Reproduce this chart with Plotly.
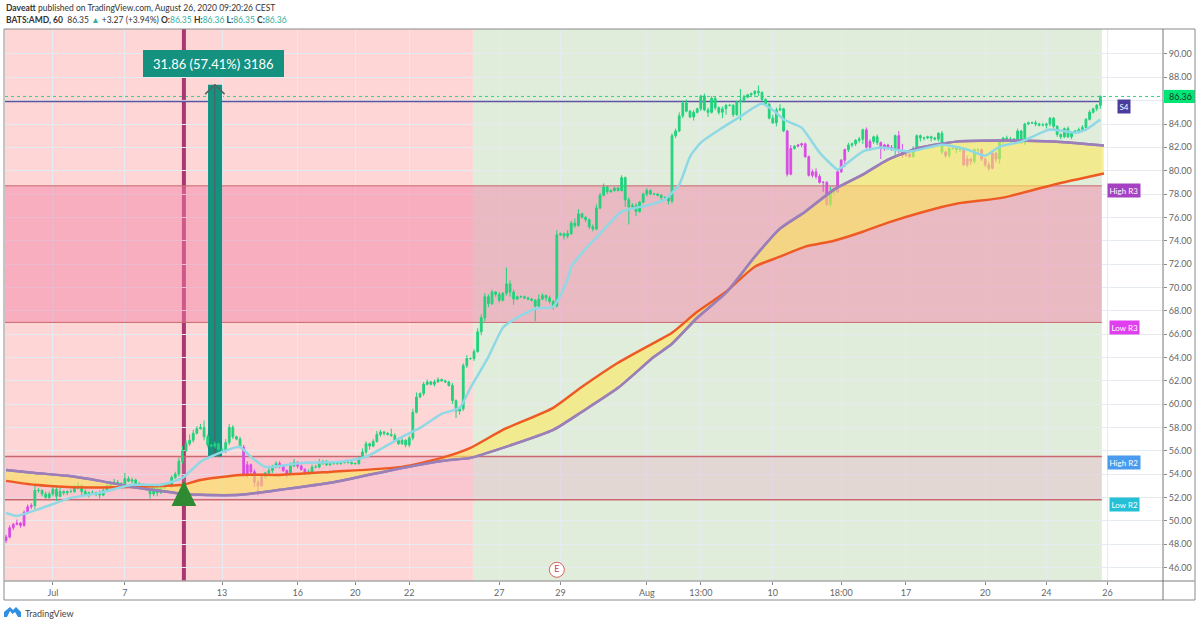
import plotly.graph_objects as go

# ---------- chart values ----------
closes = [
48.6,49.4,49.7,49.8,49.6,50.7,51.2,51.3,52.6,52.6,
52.3,52.0,52.3,52.7,52.1,52.5,52.4,52.5,52.5,52.8,
53.0,52.5,52.2,52.4,52.3,52.4,52.2,52.6,53.0,53.3,
53.3,53.2,53.1,53.6,53.4,53.5,53.2,53.1,52.9,52.7,
52.3,52.9,52.4,52.8,53.0,53.0,53.7,54.0,55.1,56.0,
56.6,56.9,57.5,57.9,58.0,57.2,56.5,56.4,56.6,56.1,
56.0,56.7,58.0,57.2,57.0,56.3,54.0,54.8,54.2,53.3,
53.0,53.8,54.1,54.3,54.6,54.9,54.7,54.3,54.0,54.7,
55.0,54.7,54.4,54.0,54.2,54.6,54.6,54.9,55.1,54.8,
54.9,55.0,54.9,55.0,55.0,55.0,54.9,54.9,55.4,55.9,
56.6,56.4,56.8,57.4,57.6,57.5,57.4,57.3,56.9,56.6,
56.9,56.5,57.1,59.3,60.6,60.9,61.7,61.9,61.7,61.9,
62.1,62.0,61.9,61.6,60.3,59.4,59.6,63.3,63.9,63.9,
64.5,66.2,67.4,69.2,68.6,69.6,69.4,68.9,69.5,70.3,
69.6,69.0,69.2,69.2,69.1,69.0,68.9,68.4,69.0,69.3,
69.1,68.8,68.4,74.5,74.6,74.4,74.6,75.5,75.3,76.3,
76.0,75.8,75.2,75.0,76.8,77.9,78.6,78.2,78.3,78.5,
78.3,79.4,77.5,76.9,77.0,76.5,77.3,78.0,78.3,78.0,
78.0,77.9,77.7,77.7,77.4,83.0,83.4,84.7,85.8,85.1,
84.6,85.0,85.3,86.4,85.2,85.0,86.2,85.4,85.0,85.3,
85.6,85.6,84.8,85.9,86.0,86.3,86.5,86.6,86.8,86.7,
86.1,85.7,84.5,84.1,85.2,85.3,83.4,79.7,81.9,82.1,
82.2,82.3,81.2,79.6,79.9,79.5,79.0,79.0,77.1,78.2,
78.2,79.9,80.9,81.8,82.2,82.3,82.6,82.7,83.5,82.0,
82.5,82.9,82.4,81.9,82.2,82.0,81.8,83.0,81.7,81.3,
81.4,81.2,81.9,83.0,82.8,82.8,82.9,82.8,82.7,83.2,
81.6,81.3,81.9,81.9,81.8,81.9,80.5,81.0,80.8,81.8,
81.8,81.0,80.5,80.2,81.5,81.0,82.5,82.8,82.7,82.6,
82.7,83.4,82.4,84.0,84.1,84.1,84.0,83.9,83.9,84.0,
84.5,83.8,83.1,82.9,83.6,82.9,83.3,83.4,83.5,83.7,
84.4,85.0,85.3,85.6,86.36]

first_open = 48.3

upper_wicks = [
.2,.2,.1,.3,.1,.2,.2,.2,.4,.2, .1,.2,.2,.2,.2,.3,.1,.1,.2,.3,
.3,.1,.2,.1,.2,.1,.2,.2,.2,.1, .3,.2,.1,.5,.2,.2,.1,.1,.1,.1,
.2,.1,.2,.2,.1,.3,.2,.2,.3,.4, .3,.5,.3,.2,.3,.6,.2,.1,.2,.1,
.2,.3,.3,.2,.1,.2,.2,.3,.1,.2, .2,.2,.1,.3,.2,.2,.2,.1,.1,.3,
.3,.1,.1,.1,.2,.2,.2,.4,.1,.1, .1,.1,.1,.1,.1,.1,.1,.1,.1,.3,
.2,.1,.2,.3,.2,.1,.1,.5,.2,.1, .2,.1,.2,.3,.4,.1,.2,.2,.1,.2,
.2,.1,.1,.1,.2,.1,.2,.2,.3,.1, .2,.3,.3,.3,.2,.2,.1,.2,.1,1.4,
.3,.2,.1,.1,.1,.1,.1,.1,.4,.2, .1,.2,.1,.4,.1,.1,.3,.2,.4,.4,
.1,.1,.1,.2,.3,.2,.3,.1,.1,.1, .1,.2,.1,.2,.2,.2,.1,.1,.2,.1,
.1,.1,.1,.1,.2,.2,.2,.3,.2,.3, .1,.2,.1,.1,.2,.2,.2,.2,.1,.2,
.1,.1,.1,.1,1.0,.2,.1,.1,.1,.5, .1,.1,.1,.3,.2,.4,.1,.1,.3,.1,
.1,.1,.1,.1,.2,.3,.2,.1,.1,.4, .1,.2,.1,.1,.2,.1,.1,.2,.1,.2,
.2,.1,.2,.1,.1,.1,.2,.1,.4,.6, .2,.1,.2,.1,.1,.1,.1,.1,.1,.1,
.2,.1,.1,.1,.1,.2,.1,.3,.1,.1, .1,.1,.1,.3,.2,.1,.1,.1,.2,.2,
.1,.2,.1,.1,.1,.1,.2,.1,.2,.1, .1,.1,.1,.1,.1,.2,.1,.1,.2,.2,
.1,.2,.1,.1,.1,.2,.1,.2,.1,.2, .1,1.1,.1,.1,.2,.1,.1,.1,.1,.1,
.1,1.2,.2,.1,.1,.1,.1,.1,.1,.1, .2,.1,.2,.2,.3]

lower_wicks = [
.2,.1,.2,.1,.2,.1,.1,.2,.3,.2, .2,.1,.2,.2,.4,.1,.2,.2,.1,.1,
.1,.3,.1,.2,.1,.2,.3,.1,.1,.1, .2,.1,.1,.3,.1,.2,.1,.1,.2,.1,
.4,.2,.3,.1,.1,.1,.2,.1,.2,.2, .1,.2,.2,.1,.1,.3,.2,.1,.2,.1,
.1,.2,.2,.2,.1,.1,.2,.3,.3,.4, .8,.1,.2,.1,.2,.1,.2,.1,.3,.1,
.1,.2,.1,.1,.1,.2,.1,.1,.1,.1, .1,.1,.1,.1,.1,.1,.1,.1,.1,.1,
.2,.3,.1,.1,.2,.2,.1,.1,.1,.1, .1,.2,.2,.2,.1,.1,.2,.1,.1,.2,
.1,.1,.1,.1,.3,.6,.3,.2,.2,.1, .2,.1,.3,.3,.3,.1,.2,.2,.1,.2,
.4,.5,.1,.1,.1,.1,.1,1.3,.1,.1, .3,.2,.3,.1,.1,.3,.2,.1,.2,.1,
.1,.2,.2,.2,.1,.1,.1,.2,.1,.1, .1,.1,.6,1.5,.1,.4,.1,.1,.2,.1,
.1,.1,.2,.1,.3,.2,.2,.1,.2,.1, .1,.3,.1,.2,.1,.4,.1,.2,.2,.5,
.5,.1,.2,.1,1.6,.2,.1,.1,.3,.3, .1,.1,.1,.1,.3,.1,.1,.2,.1,.1,
.1,.2,.1,.1,.2,.2,.1,.8,.1,.2, .3,.1,.1,.6,.2,.2,.2,.2,.4,.1,
.3,.2,.2,.9,.2,.2,.1,.5,.2,.2, .1,.1,.1,.2,.3,.2,.1,.3,.1,.2,
.2,.2,.2,.1,.3,.2,.1,.2,.3,.2, .3,.2,.2,.2,.1,.3,.4,.2,.2,.2,
.2,.3,.1,.2,.1,.1,.2,.1,.1,.3, .2,.2,.2,.2,.1,.1,.2,.1,.2,.1,
.1,.1,.1,.2,.3,.1,.3,.1,.1,.3, .1,.3,.1,.1,.1,.1,.1,.1,.1,.1,
.1,.2,.4,.3,.2,.2,.1,.1,.1,.1, .6,.2,.1,.2,.1]

magenta_bars = [0,1,2,3,4,5,6,7,66,67,68,69,70,71,76,77,78,81,82,83,
                217,218,220,221,222,223,224,225,226,227,228,231,232,233,
                239,240,243,244,245,246,248,249,250,251,261,266,267,268,
                271,272,273,274,275]

slow_index = [0,8,17,26,35,43,49,54,65,76,90,110,121,129,138,152,160,170,180,185,192,
              200,208,215,222,230,238,245,254,264,277,291,305]
purple_ma = [54.36,54.10,53.85,53.42,52.90,52.56,52.30,52.22,52.22,52.65,53.25,54.53,55.13,
             55.39,56.25,57.79,59.34,61.39,64.05,65.17,67.40,69.54,72.63,75.03,76.49,78.38,
             79.66,80.95,81.98,82.49,82.58,82.49,82.15]
orange_ma = [53.42,53.08,52.90,52.86,52.90,52.99,53.08,53.50,53.93,53.93,54.19,54.62,55.39,
             56.25,57.79,59.68,61.48,63.54,65.25,66.11,67.91,69.63,71.77,72.63,73.49,74.00,
             74.77,75.55,76.40,77.17,77.69,78.80,79.75]

blue_index = [0,3,10,18,26,35,43,49,54,58,65,68,72,82,93,100,110,115,121,126,129,134,
              138,141,147,152,156,157,162,164,171,179,183,187,190,193,199,204,210,214,216,221,
              226,231,232,238,243,251,260,267,272,276,282,290,297,300,304]
blue_ma = [50.67,50.42,51.10,51.96,52.39,53.08,53.08,53.68,55.05,55.65,56.33,55.48,
           54.62,54.96,55.05,55.48,57.19,57.96,59.16,59.68,61.39,64.05,66.54,67.23,
           68.17,68.34,70.66,71.77,73.66,74.26,76.49,77.09,77.52,78.80,81.21,82.41,83.69,
           84.64,85.75,84.95,84.38,83.69,81.55,80.09,80.26,81.64,81.98,81.64,82.23,
           81.81,81.29,82.06,82.49,83.52,83.26,83.52,84.38]

tick_index = [13,33,60,81,97,112,137,154,178,193,213,232,250,272,289,306]
tick_labels = ["Jul","7","13","16","20","22","27","29","Aug","13:00","10","18:00","17","20","24","26"]
price_ticks = [46,48,50,52,54,56,58,60,62,64,66,68,70,72,74,76,78,80,82,84,86,88,90]
price_tick_labels = ["46.00","48.00","50.00","52.00","54.00","56.00","58.00","60.00","62.00","64.00","66.00",
                     "68.00","70.00","72.00","74.00","76.00","78.00","80.00","82.00","84.00","","88.00","90.00"]

zone_start, zone_split, zone_end = -0.3, 129.7, 304.4
high_r3, low_r3, high_r2, low_r2 = 78.7, 67.0, 55.5, 51.8
s4_level = 85.92
last_price = 86.36
signal_bar = 49.4
arrow_from, arrow_move = 55.5, 31.86
arrow_left, arrow_mid, arrow_right = 56.1, 58.0, 60.0

level_tags = [("S4", 85.5, "#4a3c9c"), ("High R3", 78.3, "#a641c4"), ("Low R3", 66.6, "#e03ff0"),
              ("High R2", 54.96, "#4a9bee"), ("Low R2", 51.36, "#25bfd6")]
# --------------------------------------------------------

opens = [first_open] + closes[:-1]
highs = [max(o, c) + w for o, c, w in zip(opens, closes, upper_wicks)]
lows = [min(o, c) - w for o, c, w in zip(opens, closes, lower_wicks)]
bars = list(range(len(closes)))
mag = set(magenta_bars)


def candles(idx, colour):
    return go.Candlestick(
        x=idx, open=[opens[i] for i in idx], high=[highs[i] for i in idx],
        low=[lows[i] for i in idx], close=[closes[i] for i in idx],
        increasing=dict(line=dict(color=colour, width=1), fillcolor=colour),
        decreasing=dict(line=dict(color=colour, width=1), fillcolor=colour),
        whiskerwidth=0, showlegend=False, hoverinfo="skip")


L, T, W, H = 5, 29, 1158, 552
def px(x): return (x - L) / W
def py(y): return (T + H - y) / H


slow_line = dict(width=2.5, shape="spline", smoothing=0.6)
traces = [
    go.Scatter(x=slow_index, y=purple_ma, mode="lines", line=dict(color="#9a7fb9", **slow_line),
               showlegend=False, hoverinfo="skip"),
    go.Scatter(x=slow_index, y=orange_ma, mode="lines", line=dict(color="#ee5a24", **slow_line),
               fill="tonexty", fillcolor="rgba(252,232,90,0.6)", showlegend=False, hoverinfo="skip"),
    go.Scatter(x=slow_index, y=purple_ma, mode="lines", line=dict(color="#9a7fb9", **slow_line),
               showlegend=False, hoverinfo="skip"),
    go.Scatter(x=blue_index, y=blue_ma, mode="lines", line=dict(color="#8fd8e6", width=2.5, shape="spline", smoothing=0.5),
               showlegend=False, hoverinfo="skip"),
    candles([i for i in bars if i not in mag], "#22d27c"),
    candles([i for i in bars if i in mag], "#d84ce4"),
    go.Scatter(x=[153], y=[45.8], mode="markers+text", text=["E"], textposition="middle center",
               textfont=dict(size=9, color="#c04848", family="Lato"),
               marker=dict(size=15, color="#ffffff", line=dict(color="#d86060", width=1)),
               showlegend=False, hoverinfo="skip"),
]

fig = go.Figure(traces)

under = "between"
shapes = [
    dict(type="rect", x0=zone_start, x1=zone_split, y0=0, y1=1, yref="paper", line_width=0,
         fillcolor="rgba(255,0,0,0.16)", layer=under),
    dict(type="rect", x0=zone_split, x1=zone_end, y0=0, y1=1, yref="paper", line_width=0,
         fillcolor="rgba(76,150,40,0.17)", layer=under),
    dict(type="rect", x0=zone_start, x1=zone_end, y0=low_r3, y1=high_r3, layer=under,
         fillcolor="rgba(242,130,166,0.47)", line_width=0),
    dict(type="rect", x0=zone_start, x1=zone_end, y0=low_r2, y1=high_r2, layer=under,
         fillcolor="rgba(236,152,192,0.25)", line_width=0),
]
for level, w in [(high_r3, 1), (low_r3, 1), (high_r2, 1.5), (low_r2, 1.5)]:
    shapes.append(dict(type="line", x0=zone_start, x1=zone_end, y0=level, y1=level, layer=under,
                       line=dict(color="#c9686f", width=w)))
shapes += [
    dict(type="line", x0=zone_start, x1=zone_end, y0=s4_level, y1=s4_level, layer=under,
         line=dict(color="#5c549f", width=1.5)),
    dict(type="line", x0=0, x1=1, xref="paper", y0=last_price, y1=last_price, layer=under,
         line=dict(color="#35cf85", width=1, dash="dot")),
    dict(type="line", x0=signal_bar, x1=signal_bar, y0=0, y1=1, yref="paper", layer=under,
         line=dict(color="#a8386f", width=4)),
    dict(type="rect", x0=arrow_left, x1=arrow_right, y0=arrow_from, y1=arrow_from + arrow_move, layer=under,
         fillcolor="#15917f", line_width=0),
    dict(type="line", x0=arrow_mid, x1=arrow_mid, y0=arrow_from, y1=arrow_from + arrow_move, layer=under,
         line=dict(color="#4d6664", width=1.5)),
    dict(type="path", layer=under, line=dict(color="#4d6664", width=1.5),
         path=f"M {arrow_mid-2.7} {arrow_from+arrow_move-0.8} L {arrow_mid} {arrow_from+arrow_move} L {arrow_mid+2.7} {arrow_from+arrow_move-0.8}"),
    dict(type="path", layer="above", fillcolor="#2e8b33", line_width=0,
         path=f"M {signal_bar-3.45} 51.27 L {signal_bar+3.45} 51.27 L {signal_bar} 53.42 Z"),
    # measure label box
    dict(type="rect", xref="paper", yref="paper", x0=px(143), x1=px(284), y0=py(77), y1=py(50),
         fillcolor="#15917f", line_width=0, layer="above"),
    # last price tag
    dict(type="rect", xref="paper", x0=px(1164), x1=px(1195), y0=last_price - 0.56, y1=last_price + 0.56,
         fillcolor="#00e676", line_width=0, layer="above"),
    # frame
    dict(type="rect", xref="paper", yref="paper", x0=px(4), x1=px(1195), y0=py(600), y1=py(29), layer="above",
         line=dict(color="#8a8a8a", width=1)),
    dict(type="line", xref="paper", yref="paper", x0=px(4), x1=px(1195), y0=py(581), y1=py(581), layer="above",
         line=dict(color="#a8a8a8", width=1.5)),
    dict(type="line", xref="paper", yref="paper", x0=px(1163), x1=px(1163), y0=py(600), y1=py(29), layer="above",
         line=dict(color="#777777", width=1)),
    # logo
    dict(type="path", xref="paper", yref="paper", fillcolor="#2f8fe0", line_width=0, layer="above",
         path=f"M {px(4)} {py(617)} L {px(4)} {py(612)} L {px(10)} {py(607)} L {px(13)} {py(610)} L {px(16)} {py(607)} "
              f"L {px(21)} {py(612)} L {px(21)} {py(617)} L {px(18)} {py(617)} L {px(15)} {py(612)} L {px(12.5)} {py(614)} L {px(10)} {py(611)} L {px(7)} {py(617)} Z"),
]

teal = "#38ae9c"
annotations = [
    dict(xref="paper", yref="paper", x=px(4), y=py(8), xanchor="left", yanchor="middle", showarrow=False,
         font=dict(size=8.5, color="#333333", family="Lato"),
         text="<b>Daveatt</b> published on TradingView.com, August 26, 2020 09:20:26 CEST"),
    dict(xref="paper", yref="paper", x=px(4), y=py(20), xanchor="left", yanchor="middle", showarrow=False,
         font=dict(size=8.5, color="#333333", family="Lato"),
         text=f"<b>BATS:AMD, 60</b>  86.35 <span style='color:{teal}'>▲</span> +3.27 (+3.94%) "
              f"<b>O:</b><span style='color:{teal}'>86.35</span> <b>H:</b><span style='color:{teal}'>86.36</span> "
              f"<b>L:</b><span style='color:{teal}'>86.35</span> <b>C:</b><span style='color:{teal}'>86.36</span>"),
    dict(xref="paper", yref="paper", x=px(23), y=py(613), xanchor="left", yanchor="middle", showarrow=False,
         font=dict(size=9, color="#444444", family="Lato"), text="TradingView"),
    dict(xref="paper", yref="paper", x=px(213.5), y=py(63.5), xanchor="center", yanchor="middle", showarrow=False,
         text="31.86 (57.41%) 3186", font=dict(size=13, color="#ffffff", family="Lato")),
    dict(xref="paper", x=px(1180), y=last_price, xanchor="center", yanchor="middle", showarrow=False,
         text="86.36", font=dict(size=9, color="#1a3a2a", family="Lato")),
]
for name, level, colour in level_tags:
    annotations.append(dict(xref="paper", x=px(1124), y=level, xanchor="center", yanchor="middle", showarrow=False,
                            text=name, font=dict(size=8, color="#ffffff", family="Lato"),
                            bgcolor=colour, borderpad=1.5))

fig.update_layout(
    width=1200, height=625, autosize=False,
    margin=dict(l=L, r=1200 - L - W, t=T, b=625 - T - H),
    paper_bgcolor="#ffffff", plot_bgcolor="#ffffff",
    showlegend=False, shapes=shapes, annotations=annotations,
    font=dict(family="Lato", color="#666666", size=9),
    xaxis=dict(range=[-0.3, 321.4], tickmode="array", tickvals=tick_index, ticktext=tick_labels,
               showgrid=True, gridcolor="#e6ebf1", gridwidth=1, zeroline=False, showline=False,
               ticks="outside", ticklen=3, tickcolor="#888888", rangeslider=dict(visible=False),
               tickfont=dict(size=9, color="#666666")),
    yaxis=dict(range=[44.84, 92.14], side="right", tickmode="array", tickvals=price_ticks,
               ticktext=price_tick_labels, showgrid=True, gridcolor="#e6ebf1", gridwidth=1, zeroline=False,
               showline=False, ticks="outside", ticklen=3, tickcolor="#888888",
               tickfont=dict(size=9, color="#666666")),
)

fig.write_html("out.html", config=dict(displayModeBar=False),
               post_script="document.body.style.margin='0';document.body.style.overflow='hidden';")
